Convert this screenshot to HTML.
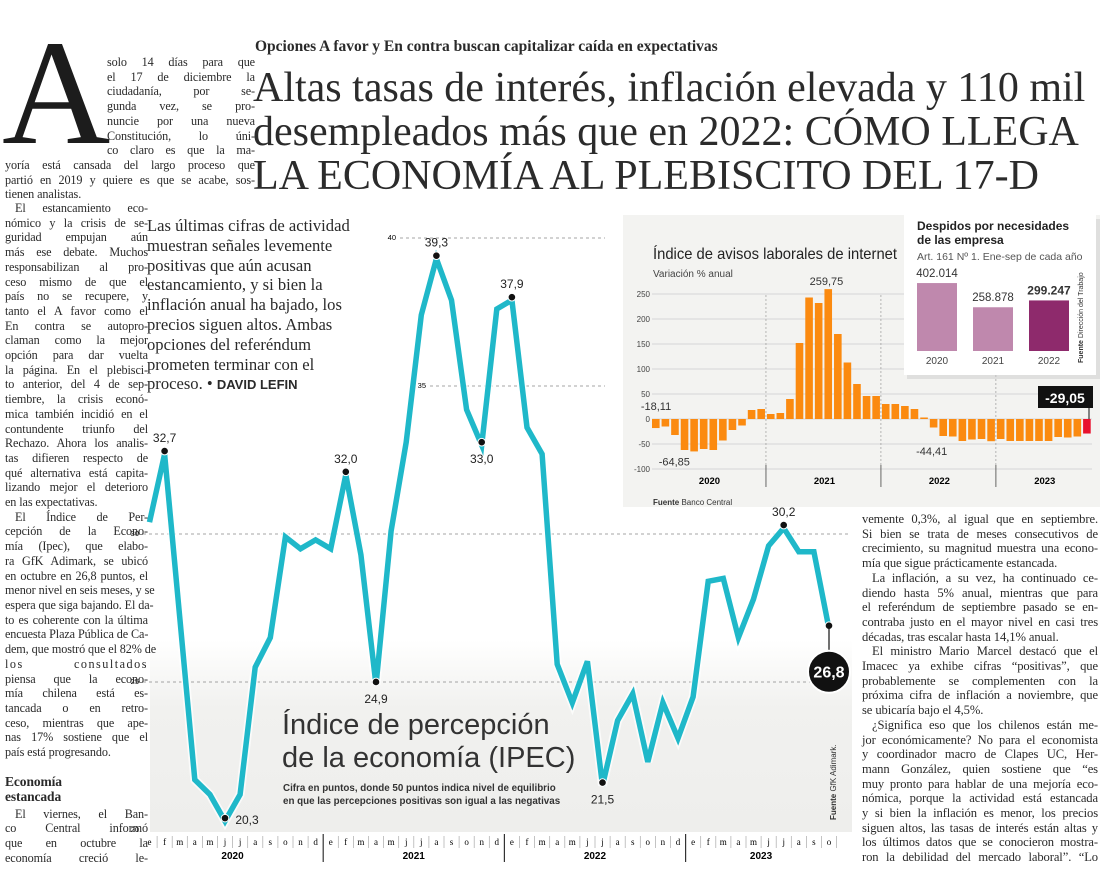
<!DOCTYPE html>
<html><head><meta charset="utf-8"><style>
body{margin:0;width:1100px;height:880px;overflow:hidden;background:#fff;position:relative;font-family:"Liberation Serif",serif;color:#222}
.a{position:absolute}
.col{position:absolute;font-size:12.2px;line-height:14.7px;color:#2a2a2a;letter-spacing:-0.1px;z-index:2}
.col div{text-align:justify;text-align-last:justify;white-space:nowrap;overflow:visible}
.col div.e{text-align-last:left}
.col div.i{text-indent:10px}
.hl{font-size:42px;line-height:44px;color:#2b2b2b;white-space:nowrap}
.pq{font-size:16.6px;line-height:19.8px;color:#2a2a2a;white-space:nowrap;z-index:2}
.s{font-family:"Liberation Sans",sans-serif}
svg{z-index:1}
</style></head><body>
<svg class="a" style="left:0;top:0" width="1100" height="880">
<defs><linearGradient id="bg" x1="0" y1="0" x2="0" y2="1"><stop offset="0" stop-color="#fff"/><stop offset="0.35" stop-color="#f1f1ef"/><stop offset="1" stop-color="#eeeeec"/></linearGradient></defs>
<rect x="150" y="640" width="702" height="192" fill="url(#bg)"/>
<g id="main"></g>
<g id="inset"></g>
</svg>
<div class="a" style="left:2px;top:18px;font-size:150px;line-height:150px;color:#1c1c1c;z-index:2">A</div>
<div class="col" style="left:107px;top:55px;width:148px">
<div>solo 14 días para que</div><div>el 17 de diciembre la</div><div>ciudadanía, por se-</div><div>gunda vez, se pro-</div><div>nuncie por una nueva</div><div>Constitución, lo úni-</div><div>co claro es que la ma-</div></div>
<div class="col" style="left:5px;top:158px;width:250px">
<div>yoría está cansada del largo proceso que</div><div>partió en 2019 y quiere es que se acabe, sos-</div><div class="e">tienen analistas.</div></div>
<div class="col" style="left:5px;top:201px;width:143px">
<div class="i">El estancamiento eco-</div><div>nómico y la crisis de se-</div><div>guridad empujan aún</div><div>más ese debate. Muchos</div><div>responsabilizan al pro-</div><div>ceso mismo de que el</div><div>país no se recupere, y</div><div>tanto el A favor como el</div><div>En contra se autopro-</div><div>claman como la mejor</div><div>opción para dar vuelta</div><div>la página. En el plebisci-</div><div>to anterior, del 4 de sep-</div><div>tiembre, la crisis econó-</div><div>mica también incidió en el</div><div>contundente triunfo del</div><div>Rechazo. Ahora los analis-</div><div>tas difieren respecto de</div><div>qué alternativa está capita-</div><div>lizando mejor el deterioro</div><div class="e">en las expectativas.</div>
<div class="i">El Índice de Per-</div><div>cepción de la Econo-</div><div>mía (Ipec), que elabo-</div><div>ra GfK Adimark, se ubicó</div><div>en octubre en 26,8 puntos, el</div><div>menor nivel en seis meses, y se</div><div>espera que siga bajando. El da-</div><div>to es coherente con la última</div><div>encuesta Plaza Pública de Ca-</div><div>dem, que mostró que el 82% de</div><div style="letter-spacing:1.5px">los consultados</div><div>piensa que la econo-</div><div>mía chilena está es-</div><div>tancada o en retro-</div><div>ceso, mientras que ape-</div><div>nas 17% sostiene que el</div><div class="e">país está progresando.</div>
<div class="e" style="font-weight:bold;font-size:13.5px;line-height:15px;margin-top:14px">Economía</div><div class="e" style="font-weight:bold;font-size:13.5px;line-height:15px">estancada</div>
<div class="i" style="margin-top:3px">El viernes, el Ban-</div><div>co Central informó</div><div>que en octubre la</div><div>economía creció le-</div></div>

<div class="a" style="left:255px;top:38px;font-size:15.5px;font-weight:bold;color:#2a2a2a;white-space:nowrap;z-index:2">Opciones A favor y En contra buscan capitalizar caída en expectativas</div>
<div class="a hl" style="left:253px;top:66px;z-index:2">Altas tasas de interés, inflación elevada y 110 mil<br>desempleados más que en 2022: CÓMO LLEGA<br>LA ECONOMÍA AL PLEBISCITO DEL 17-D</div>
<div class="a pq" style="left:147px;top:216px">Las últimas cifras de actividad<br>muestran señales levemente<br>positivas que aún acusan<br>estancamiento, y si bien la<br>inflación anual ha bajado, los<br>precios siguen altos. Ambas<br>opciones del referéndum<br>prometen terminar con el<br>proceso. • <b class="s" style="font-size:13px">DAVID LEFIN</b></div>

<div class="col" style="left:862px;top:512px;width:236px;font-size:12.6px">
<div>vemente 0,3%, al igual que en septiembre.</div><div>Si bien se trata de meses consecutivos de</div><div>crecimiento, su magnitud muestra una econo-</div><div class="e">mía que sigue prácticamente estancada.</div>
<div class="i">La inflación, a su vez, ha continuado ce-</div><div>diendo hasta 5% anual, mientras que para</div><div>el referéndum de septiembre pasado se en-</div><div>contraba justo en el mayor nivel en casi tres</div><div class="e">décadas, tras escalar hasta 14,1% anual.</div>
<div class="i">El ministro Mario Marcel destacó que el</div><div>Imacec ya exhibe cifras “positivas”, que</div><div>probablemente se complementen con la</div><div>próxima cifra de inflación a noviembre, que</div><div class="e">se ubicaría bajo el 4,5%.</div>
<div class="i">¿Significa eso que los chilenos están me-</div><div>jor económicamente? No para el economista</div><div>y coordinador macro de Clapes UC, Her-</div><div>mann González, quien sostiene que “es</div><div>muy pronto para hablar de una mejoría eco-</div><div>nómica, porque la actividad está estancada</div><div>y si bien la inflación es menor, los precios</div><div>siguen altos, las tasas de interés están altas y</div><div>los últimos datos que se conocieron mostra-</div><div>ron la debilidad del mercado laboral”. “Lo</div></div>

<div class="a s" style="left:282px;top:709px;font-size:29px;line-height:33px;color:#333;white-space:nowrap;z-index:2">Índice de percepción<br>de la economía (IPEC)</div>
<div class="a s" style="left:283px;top:782px;font-size:9.8px;line-height:13px;font-weight:bold;color:#333;white-space:nowrap;z-index:2">Cifra en puntos, donde 50 puntos indica nivel de equilibrio<br>en que las percepciones positivas son igual a las negativas</div>
<div class="a s" style="left:829px;top:820px;transform:rotate(-90deg);transform-origin:0 0;font-size:8px;color:#333;white-space:nowrap;z-index:2"><b>Fuente</b> GfK Adimark.</div>

<script>
const ipecMonths=["e","f","m","a","m","j","j","a","s","o","n","d"];
const ipecYears=["2020","2021","2022","2023"];
const ipecValues=[30.4,32.7,27.2,21.7,21.2,20.3,21.2,25.5,26.5,29.9,29.5,29.8,29.5,32.0,29.3,24.9,30.1,33.1,37.4,39.3,37.9,34.2,33.0,37.6,37.9,33.6,32.7,25.6,24.3,25.7,21.5,23.7,24.6,22.3,24.3,23.1,24.5,28.4,28.5,26.5,27.8,29.6,30.2,29.4,29.4,26.8];
const ipecTicks=[20,25,30,35,40];
const ipecLabels=[[1,"32,7"],[5,"20,3"],[13,"32,0"],[15,"24,9"],[19,"39,3"],[22,"33,0"],[24,"37,9"],[30,"21,5"],[42,"30,2"]];

const avisosValues=[-18.11,-15,-32,-62,-64.85,-60,-62,-43,-22,-13,18,20,10,12,40,152,243,232,259.75,170,113,70,46,46,30,30,26,20,3,-17,-34,-35,-44,-41,-40,-44.41,-40,-44,-44,-44,-44,-44,-36,-37,-35,-29.05];
const avisosTicks=[250,200,150,100,50,0,-50,-100];
const avisosYears=["2020","2021","2022","2023"];
const despidosYears=["2020","2021","2022"];
const despidosValues=[402014,258878,299247];
const despidosLabels=["402.014","258.878","299.247"];

const NS="http://www.w3.org/2000/svg";
function mk(p,t,a,txt){const e=document.createElementNS(NS,t);for(const k in a)e.setAttribute(k,a[k]);if(txt!==undefined)e.textContent=txt;p.appendChild(e);return e;}
const main=document.getElementById('main');
const X=i=>149.5+15.1*i, Y=v=>830-(v-20)*29.6;
const gridSpans={20:[0,0],25:[143,848],30:[143,848],35:[430,605],40:[400,605]};
ipecTicks.forEach(t=>{const s=gridSpans[t];
 if(s[1]>0){const g=mk(main,'line',{x1:s[0],x2:s[1],y1:Y(t),y2:Y(t),stroke:'#888','stroke-width':0.8,'stroke-dasharray':'3,3'});
 }
 const lx=t>=35?s[0]-4:139;
 const l=mk(main,'text',{x:lx,y:Y(t)+2,'font-size':7.5,'text-anchor':'end','font-family':'Liberation Sans'},String(t));
 });
for(let i=0;i<ipecValues.length;i++){
 const m=mk(main,'text',{x:X(i),y:845,'font-size':9,'text-anchor':'middle','font-family':'Liberation Serif'},ipecMonths[i%12]);
 
 if(i%12!==0){const sl=mk(main,'line',{x1:X(i)-7.5,x2:X(i)-7.5,y1:836,y2:848,stroke:'#aaa','stroke-width':0.7});}
}
mk(main,'line',{x1:X(46)-7.5,x2:X(46)-7.5,y1:836,y2:848,stroke:'#aaa','stroke-width':0.7});
ipecYears.forEach((y,k)=>{
 if(k>0){const yl=mk(main,'line',{x1:X(12*k)-7.5,x2:X(12*k)-7.5,y1:834,y2:862,stroke:'#333','stroke-width':1.2});}
 const n=Math.min(12,ipecValues.length-12*k);
 const t=mk(main,'text',{x:(X(12*k)+X(12*k+n-1))/2,y:859,'font-size':10,'font-weight':'bold','text-anchor':'middle','font-family':'Liberation Sans'},y);
 });
const pts=ipecValues.map((v,i)=>X(i)+','+Y(v)).join(' ');
const halo=mk(main,'polyline',{points:pts,fill:'none',stroke:'#fff','stroke-width':9,'stroke-linejoin':'miter','stroke-opacity':0.7});

const ln=mk(main,'polyline',{points:pts,fill:'none',stroke:'#1fb8c9','stroke-width':5.5,'stroke-linejoin':'miter'});

ipecLabels.forEach(([i,s])=>{
 const d=mk(main,'circle',{cx:X(i),cy:Y(ipecValues[i])-3,r:3.8,fill:'#111',stroke:'#fff','stroke-width':1});
 
 const below=[5,15,22,30].includes(i);
 const tx=i===5?X(i)+22:X(i), ty=i===5?Y(ipecValues[i])+3:(below?Y(ipecValues[i])+18:Y(ipecValues[i])-12);
 const t=mk(main,'text',{x:tx,y:ty,'font-size':12,'text-anchor':'middle','font-family':'Liberation Sans',fill:'#222'},s);
 });
const li=ipecValues.length-1;
const ld=mk(main,'circle',{cx:X(li),cy:Y(ipecValues[li])-3,r:3.8,fill:'#111',stroke:'#fff','stroke-width':1});

mk(main,'line',{x1:X(li),x2:X(li),y1:Y(ipecValues[li]),y2:Y(ipecValues[li])+22,stroke:'#111','stroke-width':1.2});
const bc=mk(main,'circle',{cx:X(li),cy:Y(ipecValues[li])+43,r:21,fill:'#111',stroke:'#fff','stroke-width':2});

const bt=mk(main,'text',{x:X(li),y:Y(ipecValues[li])+49,'font-size':16,'font-weight':'bold','text-anchor':'middle',fill:'#fff','font-family':'Liberation Sans'},String(ipecValues[li]).replace('.',','));


const ins=document.getElementById('inset');
const bgr=mk(ins,'rect',{x:623,y:215,width:477,height:292,fill:'#f3f3f1'});

const BX=i=>652+9.58*i, BY=v=>419-v*0.5;
const t1=mk(ins,'text',{x:653,y:259,'font-size':16,'font-family':'Liberation Sans',fill:'#222',textLength:244,lengthAdjust:'spacingAndGlyphs'},'Índice de avisos laborales de internet');

const t2=mk(ins,'text',{x:653,y:277,'font-size':10,'font-family':'Liberation Sans',fill:'#444'},'Variación % anual');

avisosTicks.forEach(t=>{const g=mk(ins,'line',{x1:652,x2:1092,y1:BY(t),y2:BY(t),stroke:'#ccc','stroke-width':0.8});
 const l=mk(ins,'text',{x:650,y:BY(t)+3,'font-size':8,'text-anchor':'end','font-family':'Liberation Sans',fill:'#444'},String(t));});
avisosYears.forEach((y,k)=>{
 if(k>0){const xx=BX(12*k)-1;mk(ins,'line',{x1:xx,x2:xx,y1:295,y2:465,stroke:'#999','stroke-width':0.7,'stroke-dasharray':'2,2'});mk(ins,'line',{x1:xx,x2:xx,y1:465,y2:487,stroke:'#666','stroke-width':1});}
 const n=Math.min(12,avisosValues.length-12*k);
 const t=mk(ins,'text',{x:(BX(12*k)+BX(12*k+n))/2,y:484,'font-size':9.5,'font-weight':'bold','text-anchor':'middle','font-family':'Liberation Sans'},y);
 });
avisosValues.forEach((v,i)=>{const last=i===avisosValues.length-1;
 const r=mk(ins,'rect',{x:BX(i),y:Math.min(BY(v),BY(0)),width:7.6,height:Math.abs(v)*0.5,fill:last?'#e8112d':'#fb8a10'});
 });
const al=[[0,'-18,11',-14,0],[4,'-64,85',-20,1],[18,'259,75',-2,0],[35,'-44,41',-40,1]];
al.forEach(([i,s,dx,below])=>{const v=avisosValues[i];
 const t=mk(ins,'text',{x:BX(i)+dx+(i===0?18:i===35?0:4),y:below?BY(v)+14:(i===0?BY(0)-9:BY(v)-4),'font-size':11,'text-anchor':i===35?'end':'middle','font-family':'Liberation Sans',fill:'#333'},s);
 });
const lv=avisosValues[avisosValues.length-1];
const bx=mk(ins,'rect',{x:1038,y:386,width:55,height:22,fill:'#111'});

mk(ins,'line',{x1:1089,x2:1089,y1:408,y2:419,stroke:'#111','stroke-width':1});
const lt=mk(ins,'text',{x:1065,y:403,'font-size':14,'font-weight':'bold','text-anchor':'middle',fill:'#fff','font-family':'Liberation Sans'},String(lv).replace('.',','));

const src=mk(ins,'text',{x:653,y:505,'font-size':8,'font-family':'Liberation Sans',fill:'#333'},'');
src.innerHTML='<tspan font-weight="bold">Fuente</tspan> Banco Central';

mk(ins,'rect',{x:907,y:219,width:193,height:160,fill:'#ccc',opacity:0.5});
const db=mk(ins,'rect',{x:904,y:215,width:192,height:160,fill:'#fff'});

const d1=mk(ins,'text',{x:917,y:230,'font-size':12,'font-weight':'bold','font-family':'Liberation Sans',fill:'#222'},'Despidos por necesidades');

mk(ins,'text',{x:917,y:244,'font-size':12,'font-weight':'bold','font-family':'Liberation Sans',fill:'#222'},'de las empresa');
const d2=mk(ins,'text',{x:917,y:260,'font-size':10.5,'font-family':'Liberation Sans',fill:'#555'},'Art. 161 Nº 1. Ene-sep de cada año');

const DY=v=>351-v*0.000169;
despidosValues.forEach((v,i)=>{const x=917+56*i;
 const r=mk(ins,'rect',{x:x,y:DY(v),width:40,height:351-DY(v),fill:i===2?'#8e2a6c':'#bf88ad'});
 
 const t=mk(ins,'text',{x:x+20,y:DY(v)-6,'font-size':i===2?12:11.5,'font-weight':i===2?'bold':'normal','text-anchor':'middle','font-family':'Liberation Sans',fill:'#333'},despidosLabels[i]);
 
 const y=mk(ins,'text',{x:x+20,y:364,'font-size':10,'text-anchor':'middle','font-family':'Liberation Sans',fill:'#444'},despidosYears[i]);
 });
const ds=mk(ins,'text',{x:0,y:0,'font-size':7,'font-family':'Liberation Sans',fill:'#333',transform:'translate(1083,363) rotate(-90)'},'');
ds.innerHTML='<tspan font-weight="bold">Fuente</tspan> Dirección del Trabajo';

</script>
</body></html>
